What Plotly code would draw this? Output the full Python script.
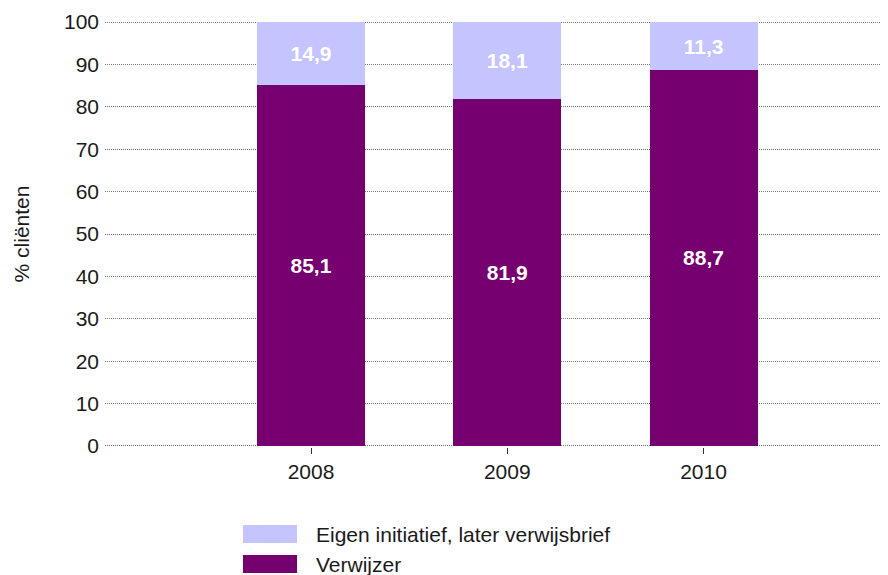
import plotly.graph_objects as go

years = ["2008", "2009", "2010"]
verwijzer = [85.1, 81.9, 88.7]
eigen = [14.9, 18.1, 11.3]
series_names = ["Eigen initiatief, later verwijsbrief", "Verwijzer"]
y_ticks = [0, 10, 20, 30, 40, 50, 60, 70, 80, 90, 100]

dark = "#770070"
light = "#C4C4FE"
font = "Liberation Sans, Arial, sans-serif"
FS = 21

# page body has an 8px default margin: figure is sized/offset to compensate
PL, PT, PW, PH = 105, 21, 783, 426  # plot area in page pixels

fig = go.Figure()
fig.add_trace(go.Bar(x=years, y=verwijzer, name=series_names[1], marker=dict(color=dark, line=dict(width=0)),
                     width=0.55, texttemplate="<b>%{y:.1f}</b>", textposition="inside",
                     insidetextanchor="middle", textfont=dict(color="white", size=FS, family=font),
                     showlegend=False))
fig.add_trace(go.Bar(x=years, y=eigen, name=series_names[0], marker=dict(color=light, line=dict(width=0)),
                     width=0.55, texttemplate="<b>%{y:.1f}</b>", textposition="inside",
                     insidetextanchor="middle", textfont=dict(color="white", size=FS, family=font),
                     showlegend=False))

# custom legend (large swatches)
leg = [(series_names[0], light, 534), (series_names[1], dark, 564)]
for name, col, yc in leg:
    fig.add_shape(type="rect", xref="paper", yref="paper",
                  x0=(243 - PL) / PW, x1=(297 - PL) / PW,
                  y0=(PT + PH - (yc + 9)) / PH, y1=(PT + PH - (yc - 9)) / PH,
                  fillcolor=col, line=dict(width=0))
    fig.add_annotation(xref="paper", yref="paper", x=(314 - PL) / PW, y=(PT + PH - yc) / PH,
                       text=name, showarrow=False, xanchor="left", yanchor="middle",
                       font=dict(size=FS, color="#1a1a1a", family=font))

fig.update_layout(
    barmode="stack",
    separators=",.",
    width=880, height=567,
    margin=dict(l=PL - 8, r=0, t=PT - 8, b=567 - (PT - 8) - PH, autoexpand=False),
    plot_bgcolor="white", paper_bgcolor="white",
    font=dict(family=font, size=FS, color="#1a1a1a"),
    xaxis=dict(range=[-1.05, 2.94], showgrid=False, zeroline=False, showline=False,
               ticks="outside", ticklen=6, tickcolor="#333", tickfont=dict(size=FS)),
    yaxis=dict(range=[-0.25, 100.25], tickvals=y_ticks, showgrid=True, gridcolor="#777",
               griddash="1px,1px", gridwidth=1, zeroline=False, showline=False,
               ticks="", ticklabelstandoff=5, tickfont=dict(size=FS),
               title=dict(text="% cliënten", font=dict(size=FS), standoff=28)),
)

fig.write_html("out.html")
